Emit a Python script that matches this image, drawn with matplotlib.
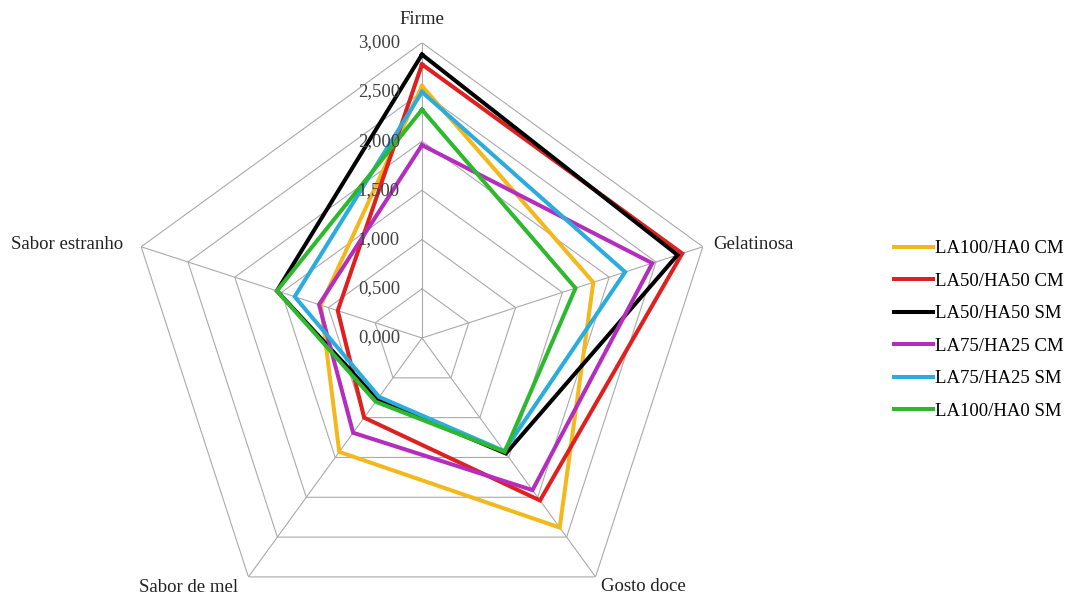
import numpy as np
import matplotlib
matplotlib.use('Agg')
import matplotlib.pyplot as plt
from matplotlib.transforms import offset_copy

plt.rcParams['font.family'] = ['Liberation Serif', 'DejaVu Serif']

categories = ['Firme', 'Gelatinosa', 'Gosto doce', 'Sabor de mel', 'Sabor estranho']
levels = [0.0, 0.5, 1.0, 1.5, 2.0, 2.5, 3.0]

series_names = ['LA100/HA0 CM', 'LA50/HA50 CM', 'LA50/HA50 SM',
                'LA75/HA25 CM', 'LA75/HA25 SM', 'LA100/HA0 SM']
la100_ha0_cm = [2.56, 1.83, 2.38, 1.43, 1.08]
la50_ha50_cm = [2.78, 2.78, 2.04, 1.00, 0.90]
la50_ha50_sm = [2.88, 2.73, 1.45, 0.77, 1.55]
la75_ha25_cm = [1.96, 2.46, 1.91, 1.19, 1.10]
la75_ha25_sm = [2.50, 2.17, 1.42, 0.74, 1.36]
la100_ha0_sm = [2.32, 1.64, 1.43, 0.80, 1.55]
series = [la100_ha0_cm, la50_ha50_cm, la50_ha50_sm,
          la75_ha25_cm, la75_ha25_sm, la100_ha0_sm]
colors = ['#F2B81C', '#E0201E', '#000000', '#B52DBE', '#2AACDE', '#2DB82D']

n = len(categories)
theta = np.linspace(0, 2 * np.pi, n, endpoint=False)
theta_c = np.append(theta, theta[0])

fig = plt.figure(figsize=(10.72, 5.99), dpi=100)
ax = fig.add_axes([0.1182, -0.0573, 0.5509, 0.986], projection='polar')
ax.set_theta_offset(np.pi / 2)
ax.set_theta_direction(-1)
ax.set_ylim(0, 3)
ax.set_axis_off()

grid_c = '#aaaaaa'
for lv in levels[1:]:
    ax.plot(theta_c, [lv] * (n + 1), color=grid_c, lw=0.8, zorder=1)
for t in theta:
    ax.plot([t, t], [0, 3], color=grid_c, lw=0.8, zorder=1)

handles = []
for vals, name, c in zip(series, series_names, colors):
    v = np.append(vals, vals[0])
    h, = ax.plot(theta_c, v, color=c, lw=2.9, label=name, zorder=3,
                 solid_joinstyle='miter')
    handles.append(h)

# tick labels on the Firme axis
for lv in levels:
    tr = offset_copy(ax.transData, fig=fig, x=-22, y=0, units='dots')
    ax.text(0, lv, f'{lv:.3f}'.replace('.', ','), transform=tr,
            ha='right', va='center', fontsize=13.5, color='#404040')

# category labels
lab_off = [(0, 23, 'center'), (10, 2, 'left'), (5, -10, 'left'),
           (-10, -11, 'right'), (-18, 2, 'right')]
for t, name, (dx, dy, ha) in zip(theta, categories, lab_off):
    tr = offset_copy(ax.transData, fig=fig, x=dx, y=dy, units='dots')
    ax.text(t, 3, name, transform=tr, ha=ha, va='center', fontsize=13.5,
            color='#222222')

fig.legend(handles=handles, labels=series_names, loc='center left',
           bbox_to_anchor=(894 / 1072, 1 - 330 / 599), frameon=False,
           fontsize=13.5, handlelength=2.1, handletextpad=0.1,
           labelspacing=0.82, borderpad=0, borderaxespad=0)

fig.savefig('out.png', dpi=100)
